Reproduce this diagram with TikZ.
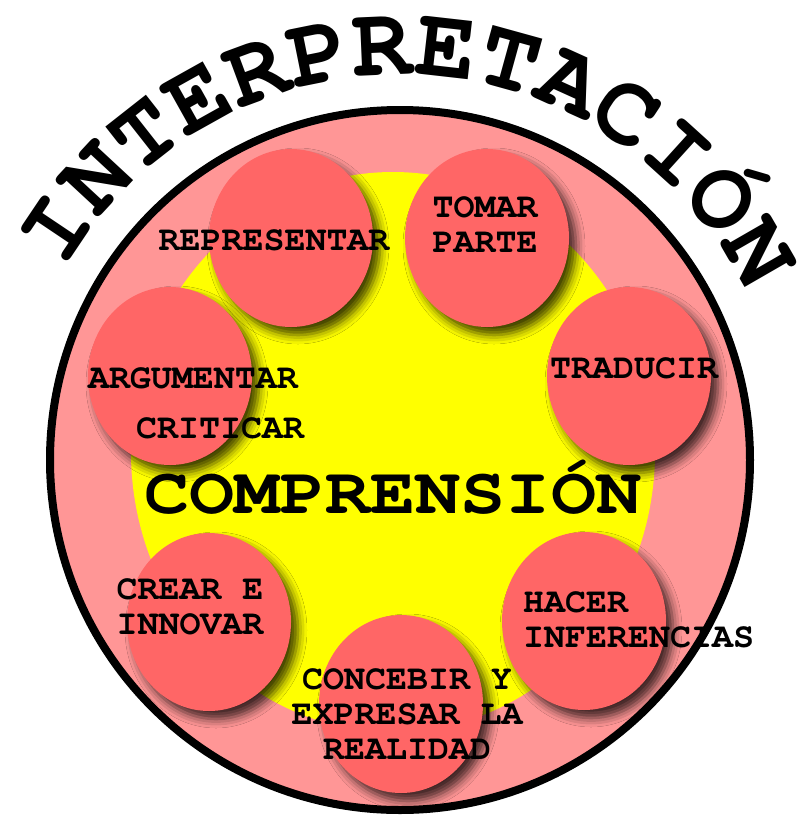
\documentclass[tikz,border=0pt]{standalone}
\usepackage{fontspec}
\setmonofont{TeX Gyre Cursor}
\usepackage{tikz}
\usetikzlibrary{shapes.geometric,shadows.blur,decorations.text}

\definecolor{ringpink}{HTML}{FF9696}
\definecolor{bubblered}{HTML}{FF6666}
\definecolor{coreyellow}{HTML}{FFFF00}
\newcommand{\tagfont}{\fontsize{35}{35}\selectfont\ttfamily\bfseries}
\newcommand{\titlefont}{\fontsize{100}{100}\selectfont\ttfamily\bfseries}

\begin{document}
\begin{tikzpicture}[x=1pt,y=1pt,
	bubble/.style={ellipse,fill=bubblered,minimum width=164,minimum height=178,inner sep=0,
		blur shadow={shadow xshift=7pt,shadow yshift=-8pt,shadow blur radius=9pt,shadow opacity=75}},
	tag/.style={font=\tagfont,inner sep=0,align=center}] 
	\useasboundingbox (0,0) rectangle (802,-823);
	% ring and core
	\draw[line width=8,fill=ringpink] (400,-460) circle[radius=350];
	\fill[coreyellow] (393,-452) ellipse[x radius=262,y radius=280];
	% title on the arc
	\path[decorate,decoration={text along path,text align=center,
		text={|\titlefont|INTERPRETACIÓN}}]
		(400,-460) ++(152:385) arc[start angle=152,end angle=24,radius=385];
	% the seven bubbles
	\node[bubble] (h_1) at (291,-238) {};
	\node[bubble] (h_2) at (487,-238) {};
	\node[bubble] (h_3) at (629,-376) {};
	\node[bubble] (h_4) at (584,-621) {};
	\node[bubble] (h_5) at (401,-704) {};
	\node[bubble] (h_6) at (209,-622) {};
	\node[bubble] (h_7) at (170,-376) {};
	% labels
	\node[tag,anchor=base] (l_1) at (274,-250) {REPRESENTAR};
	\node[tag] (l_2) at (485,-225) {TOMAR\\PARTE};
	\node[tag,anchor=base] (l_3) at (634,-378) {TRADUCIR};
	\node[tag,align=left,anchor=west] (l_4) at (523,-620) {HACER\\INFERENCIAS};
	\node[tag] (l_5) at (407,-714) {CONCEBIR Y\\EXPRESAR LA\\REALIDAD};
	\node[tag] (l_6) at (190,-607) {CREAR E\\INNOVAR};
	\node[tag,anchor=base] (l_7) at (193,-388) {ARGUMENTAR};
	\node[tag,anchor=base] (l_8) at (220,-438) {CRITICAR};
	\node[font=\fontsize{66}{66}\selectfont\ttfamily\bfseries,xscale=1.14,inner sep=0,anchor=base]
		(comp) at (393,-513) {COMPRENSIÓN};

\end{tikzpicture}
\end{document}
